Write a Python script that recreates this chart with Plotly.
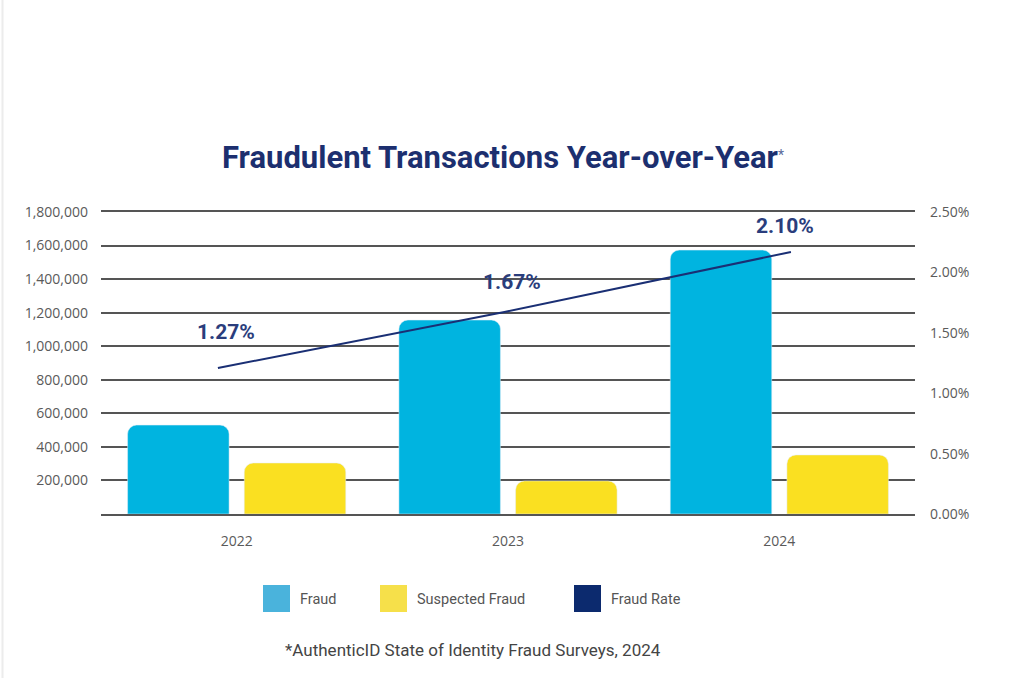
import plotly.graph_objects as go

years = ["2022", "2023", "2024"]
fraud = [530000, 1156000, 1573000]
suspected = [304000, 197000, 352000]
fraud_rate = [1.27, 1.67, 2.10]
rate_labels = ["1.27%", "1.67%", "2.10%"]

left_ticks = [200000, 400000, 600000, 800000, 1000000, 1200000, 1400000, 1600000, 1800000]
left_ticktext = ["200,000", "400,000", "600,000", "800,000", "1,000,000", "1,200,000",
                 "1,400,000", "1,600,000", "1,800,000"]
right_ticks = [0, 0.5, 1.0, 1.5, 2.0, 2.5]
right_ticktext = ["0.00%", "0.50%", "1.00%", "1.50%", "2.00%", "2.50%"]

legend_names = ["Fraud", "Suspected Fraud", "Fraud Rate"]
legend_colors = ["#4ab3dc", "#f6e04a", "#0c2a6e"]

C_FRAUD = "#00b4e0"
C_SUSP = "#fae021"
C_LINE = "#1a2f74"
GRID = "#555555"
TICK_FONT = dict(family="Open Sans", size=14, color="#5a5a5a")

# label offsets from line points (style, pixels)
LABEL_DX = [8, 8, -6]
LABEL_DY = [36, 30, 26]

# plot area in pixels
L, R, T, B = 101, 915, 212, 514
W, H = 1024, 699


def px2x(px):
    return (px - L) / (R - L)


def px2y(py):
    return (B - py) / (B - T)


HIDDEN = dict(showticklabels=False, showgrid=False, zeroline=False, showline=False, ticks="")

fig = go.Figure()
fig.add_trace(go.Bar(x=years, y=fraud, name="Fraud", marker=dict(color=C_FRAUD, cornerradius=9),
                     xaxis="x", yaxis="y"))
fig.add_trace(go.Bar(x=years, y=suspected, name="Suspected Fraud", marker=dict(color=C_SUSP, cornerradius=9),
                     xaxis="x", yaxis="y"))
fig.add_trace(go.Scatter(x=years, y=fraud_rate, name="Fraud Rate", mode="lines",
                         line=dict(color=C_LINE, width=2), xaxis="x2", yaxis="y3"))
# invisible trace so the right axis renders
fig.add_trace(go.Scatter(x=years, y=fraud_rate, mode="none", xaxis="x", yaxis="y2",
                         showlegend=False, hoverinfo="skip"))

for i, (yv, t) in enumerate(zip(fraud_rate, rate_labels)):
    fig.add_annotation(x=i, y=yv, xref="x2", yref="y3", text=f"<b>{t}</b>", showarrow=False,
                       yshift=LABEL_DY[i], xshift=LABEL_DX[i],
                       font=dict(family="Roboto", size=21, color="#2a3d7c"))

# custom legend (large square swatches)
sw_x = [263, 380, 574]
sw_w = 27
for i, (nm, col) in enumerate(zip(legend_names, legend_colors)):
    fig.add_shape(type="rect", xref="paper", yref="paper",
                  x0=px2x(sw_x[i]), x1=px2x(sw_x[i] + sw_w),
                  y0=px2y(612), y1=px2y(585),
                  fillcolor=col, line=dict(width=0), layer="above")
    fig.add_annotation(xref="paper", yref="paper", x=px2x(sw_x[i] + sw_w + 8), y=px2y(599),
                       xanchor="left", yanchor="middle", text=nm, showarrow=False,
                       font=dict(family="Roboto", size=14.5, color="#555555"))

fig.add_annotation(xref="paper", yref="paper", x=px2x(473), y=px2y(650),
                   xanchor="center", yanchor="middle", showarrow=False,
                   text="*AuthenticID State of Identity Fraud Surveys, 2024",
                   font=dict(family="Roboto", size=17, color="#444444"))

fig.add_annotation(xref="paper", yref="paper", x=px2x(503), y=px2y(157),
                   xanchor="center", yanchor="middle", showarrow=False,
                   text="<b>Fraudulent Transactions Year-over-Year</b><span style='font-size:20px;color:#5a6a9a'><sup>*</sup></span>",
                   font=dict(family="Roboto", size=31, color="#1c2f6f"))

# faint page border on the left
fig.add_shape(type="line", xref="paper", yref="paper", x0=px2x(2.5), x1=px2x(2.5),
              y0=px2y(678), y1=px2y(0), line=dict(color="#ececec", width=2))

fig.update_layout(
    width=W, height=H,
    margin=dict(l=L, r=W - R, t=T, b=H - B),
    paper_bgcolor="white", plot_bgcolor="white",
    showlegend=False,
    barmode="group", bargap=0.14, bargroupgap=0.13,
    xaxis=dict(type="category", categoryorder="array", categoryarray=years,
               range=[-0.5, 2.5], showgrid=False, ticks="",
               showline=True, mirror=True, linecolor=GRID, linewidth=1.5,
               tickfont=TICK_FONT, ticklabelstandoff=13),
    xaxis2=dict(type="category", categoryorder="array", categoryarray=years,
                overlaying="x", range=[-0.408, 2.433], **HIDDEN),
    yaxis=dict(range=[0, 1800000], tickvals=left_ticks, ticktext=left_ticktext,
               showgrid=True, gridcolor=GRID, gridwidth=1.5, zeroline=False,
               showline=False, tickfont=TICK_FONT, ticklabelstandoff=12),
    yaxis2=dict(range=[0, 2.5], tickvals=right_ticks, ticktext=right_ticktext,
                overlaying="y", side="right", showgrid=False, zeroline=False,
                showline=False, tickfont=TICK_FONT, ticklabelstandoff=14),
    yaxis3=dict(range=[0.225, 2.386], overlaying="y", **HIDDEN),
)

fig.write_html("out.html")
